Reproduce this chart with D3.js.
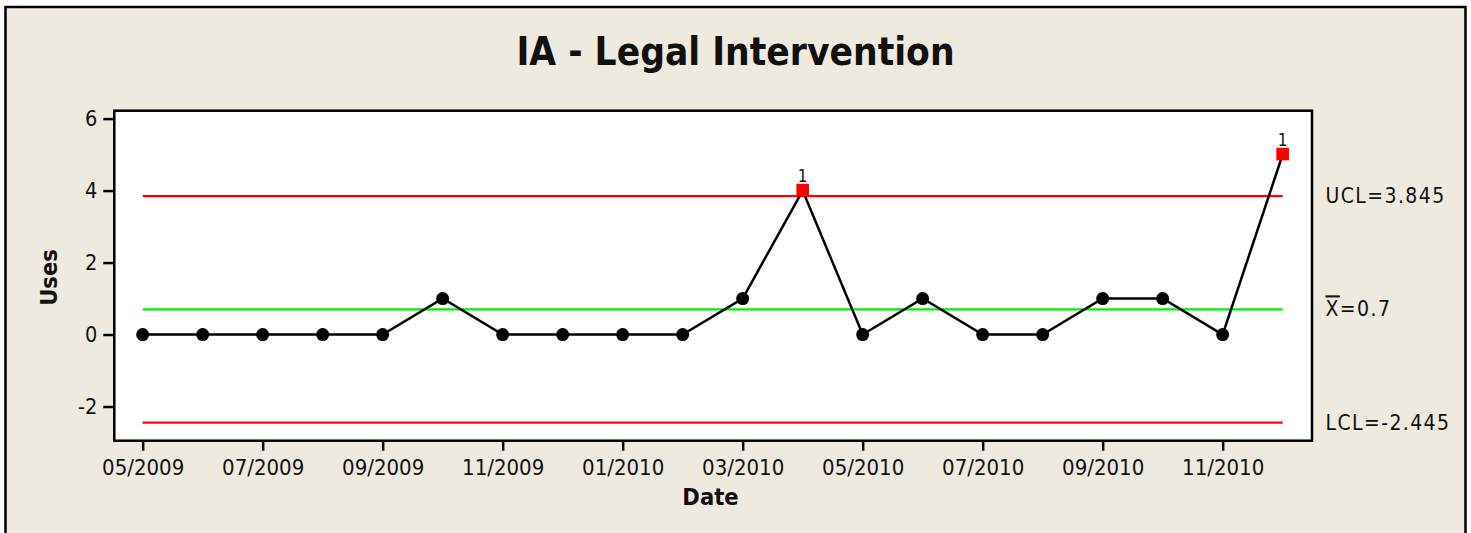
<!DOCTYPE html>
<html>
<head>
<meta charset="utf-8">
<script src="https://cdn.jsdelivr.net/npm/d3@7"></script>
<style>
  html, body { margin: 0; padding: 0; background: #ffffff; }
  svg { display: block; }
  text { font-family: "DejaVu Sans Condensed", "DejaVu Sans", Verdana, sans-serif; fill: #111; }
</style>
</head>
<body>
<svg id="chart" width="1471" height="533"></svg>
<script>
// ---- data ----
const months = ["05/2009","06/2009","07/2009","08/2009","09/2009","10/2009","11/2009","12/2009",
                "01/2010","02/2010","03/2010","04/2010","05/2010","06/2010","07/2010","08/2010",
                "09/2010","10/2010","11/2010","12/2010"];
const uses = [0,0,0,0,0,1,0,0,0,0,1,4,0,1,0,0,1,1,0,5];
const flags = [0,0,0,0,0,0,0,0,0,0,0,1,0,0,0,0,0,0,0,1];   // test 1 failures
const yTicks = [-2, 0, 2, 4, 6];
const xTickIdx = [0,2,4,6,8,10,12,14,16,18];
const UCL = 3.845, MEAN = 0.7, LCL = -2.445;
const titleText = "IA - Legal Intervention";

// ---- layout ----
const FONT = '"DejaVu Sans Condensed", "DejaVu Sans", sans-serif';
const svg = d3.select("#chart");
const plot = {left: 114.3, right: 1312, top: 110.7, bottom: 440.7};

svg.append("rect").attr("x", 5.5).attr("y", 7).attr("width", 1460).attr("height", 560)
  .attr("fill", "#EEEAE0").attr("stroke", "#000").attr("stroke-width", 2.5);

const x = d3.scaleLinear().domain([-0.473, 19.489]).range([plot.left, plot.right]);
const y = d3.scaleLinear().domain([-2.95, 6.22]).range([plot.bottom, plot.top]);

svg.append("rect").attr("x", plot.left).attr("y", plot.top)
  .attr("width", plot.right - plot.left).attr("height", plot.bottom - plot.top)
  .attr("fill", "#fff");

// title
svg.append("text").attr("x", 735.5).attr("y", 65).attr("text-anchor", "middle")
  .style("font-size", "38.5px").style("font-weight", "bold").attr("fill", "#000").text(titleText);

// control lines
const limits = [
  {v: UCL, color: "#FF0000", label: "UCL=" + UCL},
  {v: MEAN, color: "#00F000", label: "=" + MEAN, bar: true},
  {v: LCL, color: "#FF0000", label: "LCL=" + LCL}
];
limits.forEach(l => {
  svg.append("line").attr("x1", x(0)).attr("x2", x(uses.length - 1))
    .attr("y1", y(l.v)).attr("y2", y(l.v))
    .attr("stroke", l.color).attr("stroke-width", 2.3);
  const t = svg.append("text").attr("x", 1325.5).attr("y", y(l.v))
    .attr("dominant-baseline", "central")
    .style("font-size", "21px").style("letter-spacing", "1.4px");
  if (l.bar) {
    t.append("tspan").style("text-decoration", "overline").text("X");
    t.append("tspan").text(l.label);
  } else {
    t.text(l.label);
  }
});

// series line
svg.append("path").datum(uses)
  .attr("d", d3.line().x((d, i) => x(i)).y(d => y(d)))
  .attr("fill", "none").attr("stroke", "#000").attr("stroke-width", 2.5);

// markers
uses.forEach((d, i) => {
  if (flags[i]) {
    svg.append("rect").attr("x", x(i) - 6.3).attr("y", y(d) - 6.8)
      .attr("width", 12.6).attr("height", 12.6).attr("fill", "#FF0000");
    svg.append("text").attr("x", x(i)).attr("y", y(d) - 9).attr("text-anchor", "middle")
      .style("font-size", "17px").text("1");
  } else {
    svg.append("circle").attr("cx", x(i)).attr("cy", y(d)).attr("r", 6.5).attr("fill", "#000");
  }
});

// plot border
svg.append("rect").attr("x", plot.left).attr("y", plot.top)
  .attr("width", plot.right - plot.left).attr("height", plot.bottom - plot.top)
  .attr("fill", "none").attr("stroke", "#000").attr("stroke-width", 2.5);

// axes
const yAxis = svg.append("g").attr("transform", `translate(${plot.left},0)`)
  .call(d3.axisLeft(y).tickValues(yTicks).tickSize(11).tickPadding(6).tickFormat(d => String(d)));
yAxis.select(".domain").remove();
yAxis.selectAll(".tick line").attr("stroke", "#000").attr("stroke-width", 2.5);
yAxis.selectAll(".tick text").style("font-size", "21.5px")
  .style("font-family", FONT).attr("fill", "#111");

const xAxis = svg.append("g").attr("transform", `translate(0,${plot.bottom})`)
  .call(d3.axisBottom(x).tickValues(xTickIdx).tickSize(10).tickPadding(9)
    .tickFormat(i => months[i]));
xAxis.select(".domain").remove();
xAxis.selectAll(".tick line").attr("stroke", "#000").attr("stroke-width", 2.5);
xAxis.selectAll(".tick text").style("font-size", "22px")
  .style("font-family", FONT).attr("fill", "#111");

// axis titles
svg.append("text").attr("transform", "translate(56.5,277.5) rotate(-90)")
  .attr("text-anchor", "middle").style("font-size", "23.5px").style("font-weight", "bold")
  .attr("fill", "#000").text("Uses");
svg.append("text").attr("x", 710.5).attr("y", 505).attr("text-anchor", "middle")
  .style("font-size", "23.5px").style("font-weight", "bold").attr("fill", "#000").text("Date");
</script>
</body>
</html>
